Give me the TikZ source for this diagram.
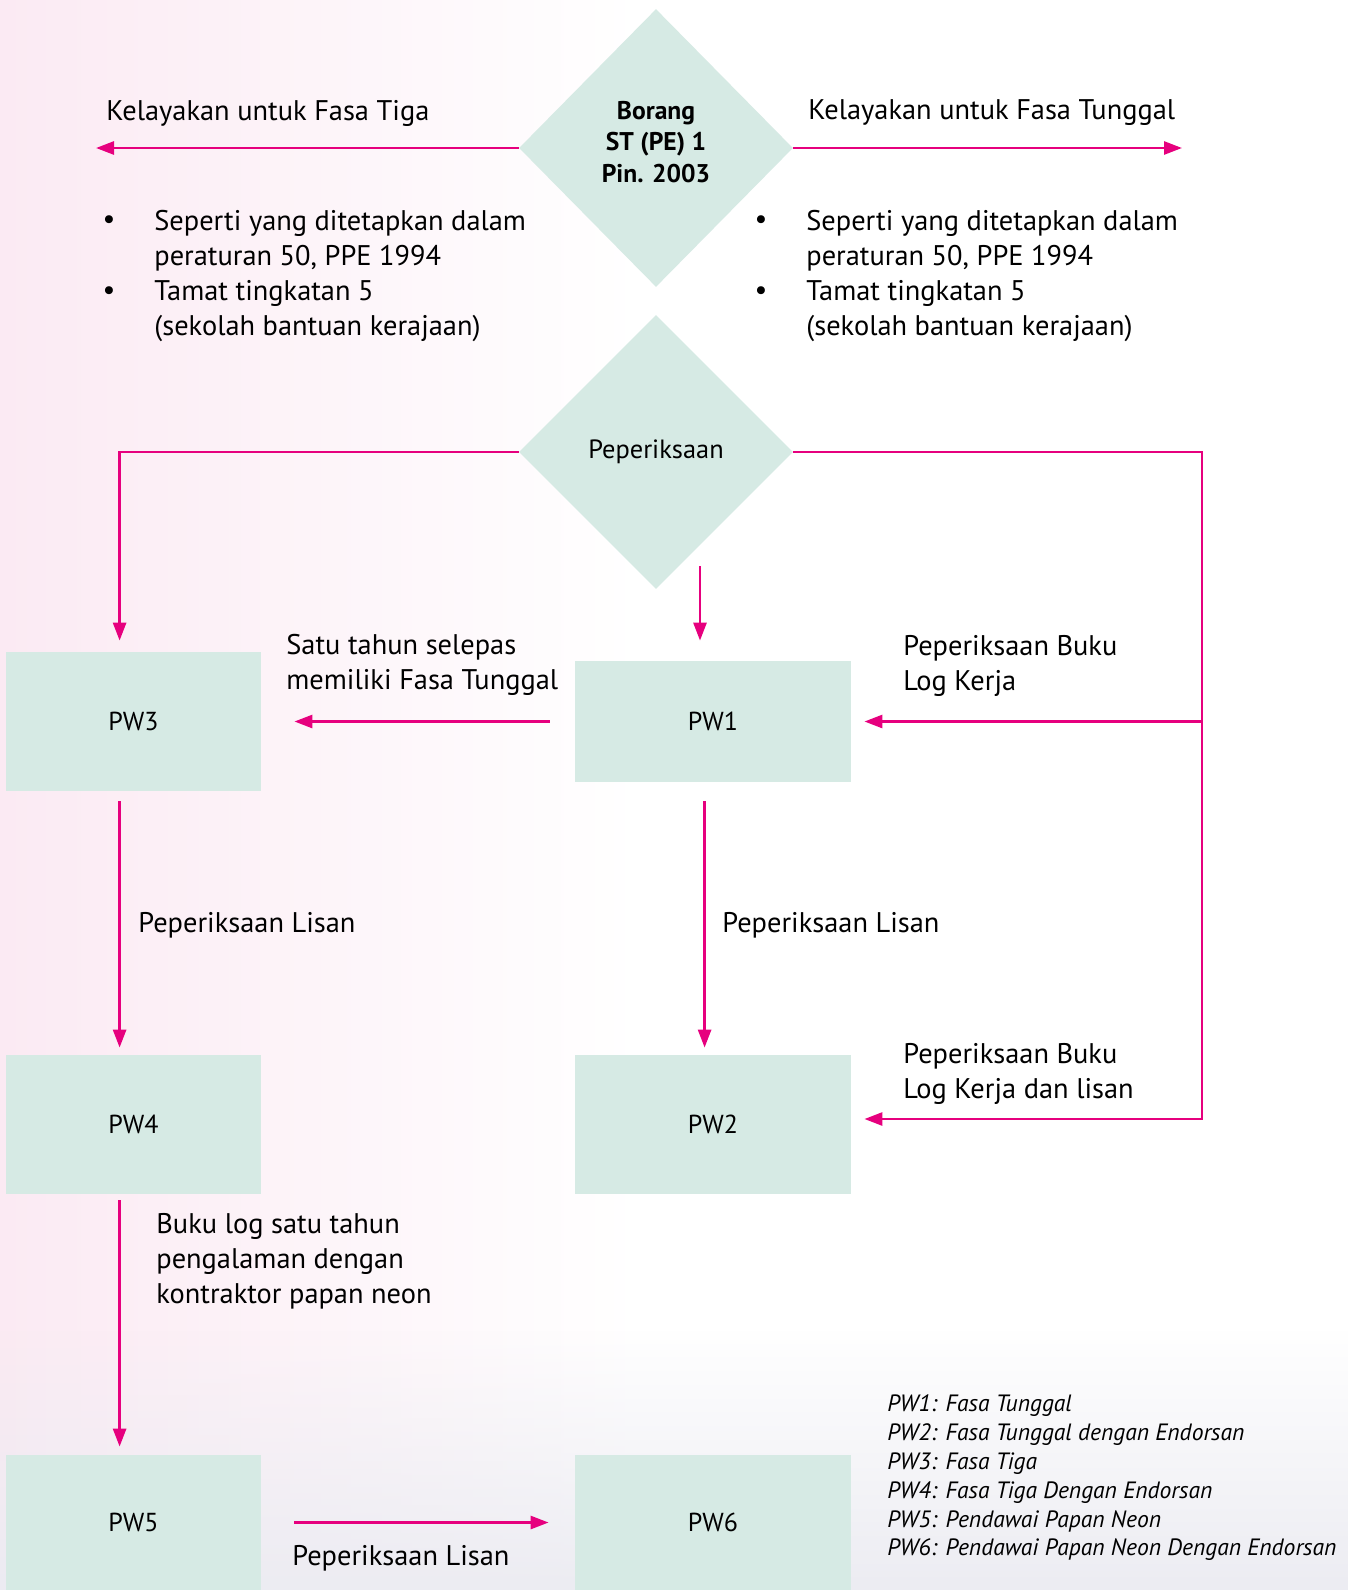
\documentclass[tikz,border=0pt]{standalone}
\usepackage{fontspec}
\setmainfont{PT Sans}
\usetikzlibrary{shapes.geometric,arrows.meta,fadings}
\definecolor{MyMint}{RGB}{214,234,228}
\definecolor{MyMagenta}{RGB}{230,0,126}
\definecolor{MyPink}{RGB}{251,234,243}
\definecolor{MyGrey}{RGB}{236,236,242}
\newcommand{\lw}{1.35pt}

\begin{document}
\begin{tikzpicture}[x=0.5pt, y=-0.5pt,
  flow/.style={draw=MyMagenta, line width=\lw, -{Triangle[length=9pt, width=6.5pt]}},
  pwbox/.style={fill=MyMint, inner sep=0pt, font=\fontsize{13}{15}\selectfont},
  choice/.style={diamond, fill=MyMint, inner sep=0pt, minimum width=137pt, minimum height=137pt},
  lbl/.style={anchor=west, inner sep=0pt, align=left, font=\fontsize{14.2}{17.6}\selectfont}]
  \fill[white] (0,0) rectangle (1350,1590);
  \shade[left color=MyPink, right color=white] (0,0) rectangle (640,1590);
  \fill[MyGrey, path fading=north] (0,1330) rectangle (1350,1590);
  \useasboundingbox (0,0) rectangle (1350,1590);

  \node[choice, minimum height=139pt, label={[align=center, yshift=3pt, font=\bfseries\fontsize{12.8}{15.8}\selectfont]center:{Borang\\ST (PE) 1\\Pin. 2003}}] (borang) at (656, 148) {};
  \node[choice, font=\fontsize{13.2}{15}\selectfont] (periksa) at (656, 452) {Peperiksaan};

  \node[pwbox, minimum width=127.5pt, minimum height=69.5pt] (pw3) at (133.5,  721.5) {PW3};
  \node[pwbox, minimum width=138pt,   minimum height=60.5pt] (pw1) at (713,    721.5) {PW1};
  \node[pwbox, minimum width=127.5pt, minimum height=69.5pt] (pw4) at (133.5, 1124.5) {PW4};
  \node[pwbox, minimum width=138pt,   minimum height=69.5pt] (pw2) at (713,   1124.5) {PW2};
  \node[pwbox, minimum width=127.5pt, minimum height=67.5pt] (pw5) at (133.5, 1522.5) {PW5};
  \node[pwbox, minimum width=138pt,   minimum height=67.5pt] (pw6) at (713,   1522.5) {PW6};

  \node[lbl] (tigatxt)    at (106, 113) {Kelayakan untuk Fasa Tiga};
  \node[lbl] (tunggaltxt) at (808, 113) {Kelayakan untuk Fasa Tunggal};
  \node[lbl] (syaratkiri) at (154, 276) {Seperti yang ditetapkan dalam\\peraturan 50, PPE 1994\\Tamat tingkatan 5\\(sekolah bantuan kerajaan)};
  \node[lbl] (syaratkanan) at (806, 276) {Seperti yang ditetapkan dalam\\peraturan 50, PPE 1994\\Tamat tingkatan 5\\(sekolah bantuan kerajaan)};
  \node[lbl, anchor=center] (bk1) at (109, 222) {•};
  \node[lbl, anchor=center] (bk2) at (109, 293) {•};
  \node[lbl, anchor=center] (bn1) at (761, 222) {•};
  \node[lbl, anchor=center] (bn2) at (761, 293) {•};

  \node[lbl] (satutahun) at (286, 664.5) {Satu tahun selepas\\memiliki Fasa Tunggal};
  \node[lbl] (bukulog)   at (903, 666)   {Peperiksaan Buku\\Log Kerja};
  \node[lbl] (lisan3)    at (138, 925)   {Peperiksaan Lisan};
  \node[lbl] (lisan1)    at (722, 925)   {Peperiksaan Lisan};
  \node[lbl] (buklisan)  at (903, 1074)  {Peperiksaan Buku\\Log Kerja dan lisan};
  \node[lbl] (pengalaman) at (156, 1261) {Buku log satu tahun\\pengalaman dengan\\kontraktor papan neon};
  \node[lbl] (lisan5)    at (292, 1558)  {Peperiksaan Lisan};

  \node[lbl, font=\itshape\fontsize{11.8}{14.4}\selectfont] (legend) at (887, 1478)
    {PW1: Fasa Tunggal\\PW2: Fasa Tunggal dengan Endorsan\\PW3: Fasa Tiga\\PW4: Fasa Tiga Dengan Endorsan\\PW5: Pendawai Papan Neon\\PW6: Pendawai Papan Neon Dengan Endorsan};

  \coordinate (tigaend)    at (96, 148);
  \coordinate (tunggalend) at (1182, 148);
  \coordinate (rail)       at (1202, 452);
  \coordinate (drop)       at (700, 566);

  \draw[flow] (borang.west) -- (tigaend);
  \draw[flow] (borang.east) -- (tunggalend);
  \draw[flow, shorten >=5.5pt] (periksa.west) -| ([xshift=57pt]pw3.north west);
  \draw[flow, shorten >=10pt] (drop) -- (drop |- pw1.north);
  \draw[flow, shorten >=6.5pt] (periksa.east) -- (rail) |- ([yshift=2.75pt]pw2.east);
  \draw[flow, shorten >=6.5pt] (rail |- pw1.east) -- (pw1.east);
  \draw[flow, shorten <=12.5pt, shorten >=16.5pt] (pw1.west) -- (pw3.east);
  \draw[flow, shorten <=5pt, shorten >=3.5pt] ([xshift=57pt]pw3.south west) -- ([xshift=57pt]pw4.north west);
  \draw[flow, shorten <=9.5pt, shorten >=3.5pt] ([xshift=65pt]pw1.south west) -- ([xshift=65pt]pw2.north west);
  \draw[flow, shorten <=3pt, shorten >=4pt] ([xshift=57pt]pw4.south west) -- ([xshift=57pt]pw5.north west);
  \draw[flow, shorten <=16.5pt, shorten >=13pt] (pw5.east) -- (pw6.west);
\end{tikzpicture}
\end{document}
